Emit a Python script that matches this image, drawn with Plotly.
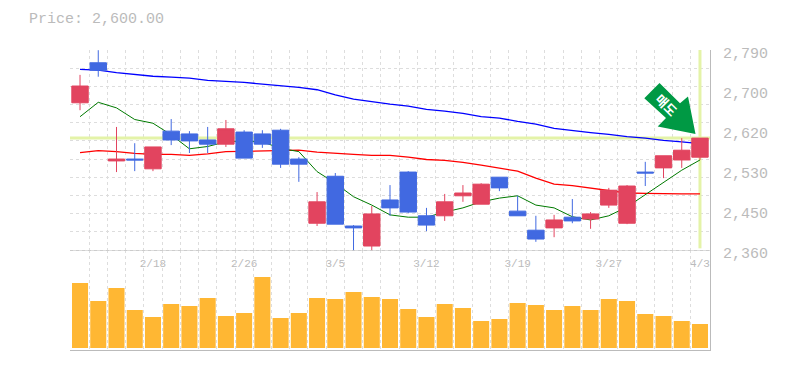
import plotly.graph_objects as go

title_text = "Price: 2,600.00"
arrow_text = "매도"
date_pos = [4, 9, 14, 19, 24, 29, 34]
date_labels = ["2/18", "2/26", "3/5", "3/12", "3/19", "3/27", "4/3"]
price_ticks = [2360, 2446, 2532, 2618, 2704, 2790]
price_labels = ["2,360", "2,450", "2,530", "2,620", "2,700", "2,790"]

opens = [2683, 2769, 2558, 2562, 2541, 2622, 2616, 2603, 2594, 2620, 2616, 2624,
         2562, 2424, 2525, 2418, 2375, 2474, 2534, 2440, 2440, 2483, 2465, 2523,
         2450, 2409, 2414, 2437, 2433, 2463, 2424, 2534, 2543, 2560, 2566]
closes = [2719, 2753, 2562, 2560, 2588, 2603, 2601, 2594, 2627, 2564, 2594, 2551,
          2551, 2470, 2422, 2414, 2444, 2457, 2448, 2420, 2470, 2489, 2508, 2500,
          2440, 2390, 2431, 2429, 2444, 2495, 2504, 2532, 2569, 2581, 2607]
highs = [2743, 2796, 2631, 2596, 2588, 2648, 2622, 2631, 2646, 2624, 2624, 2627,
         2566, 2491, 2532, 2420, 2461, 2506, 2536, 2457, 2487, 2506, 2510, 2523,
         2483, 2440, 2442, 2476, 2448, 2500, 2506, 2556, 2569, 2607, 2607]
lows = [2667, 2739, 2534, 2536, 2536, 2592, 2575, 2575, 2588, 2564, 2586, 2543,
        2513, 2418, 2422, 2366, 2366, 2440, 2446, 2407, 2429, 2470, 2465, 2493,
        2440, 2384, 2394, 2424, 2412, 2457, 2422, 2504, 2521, 2543, 2560]
ma_blue = [2755, 2753, 2748, 2744, 2740, 2738, 2736, 2731, 2729, 2727, 2723, 2720,
           2716, 2711, 2700, 2691, 2685, 2680, 2676, 2669, 2665, 2660, 2653, 2650,
           2643, 2637, 2628, 2623, 2619, 2615, 2610, 2607, 2602, 2599, 2595]
ma_red = [2576, 2580, 2578, 2574, 2572, 2572, 2570, 2573, 2578, 2579, 2579, 2581,
          2581, 2577, 2574, 2572, 2570, 2570, 2566, 2561, 2559, 2555, 2549, 2542,
          2536, 2521, 2508, 2505, 2500, 2495, 2489, 2488, 2487, 2487, 2487]
ma_green = [2653, 2684, 2672, 2647, 2639, 2614, 2584, 2589, 2599, 2601, 2599, 2585,
            2578, 2535, 2510, 2481, 2463, 2442, 2437, 2437, 2448, 2457, 2470, 2478,
            2483, 2463, 2457, 2438, 2431, 2440, 2459, 2485, 2511, 2538, 2560]
volumes = [65000, 47000, 60000, 38000, 31000, 44000, 42000, 50000, 32000, 35000, 71000, 30000,
           35000, 50000, 49000, 56000, 51000, 49000, 39000, 31000, 44000, 40000, 27000, 29000,
           45000, 43000, 38000, 42000, 38000, 49000, 47000, 34000, 32000, 27000, 24000]

W, H = 785, 370
x_idx = list(range(len(opens)))
GRAY = "#bbbbbb"
GRID = "#dddddd"
HILITE = "#e4f3a8"
RED = "#e2445f"
BLUE = "#4169e1"
MONO = "Liberation Mono"
xrange = [-0.55, 34.55]
yrange = [2360, 2796.45]
grid_x = [i - 0.5 for i in range(len(opens) + 1)]
grid_y = [2366.45 + i * 39.09 for i in range(11)]

# Pixel outline of the decorative arrow badge, converted to axis units for drawing.
arrow_pts = [(659.5, 83), (644.3, 98.3), (666, 118), (657.7, 126.5), (695.5, 134),
             (688, 96.5), (680, 103.3), (659.5, 83)]
x_span = (xrange[1] - xrange[0]) / 640
y_span = (yrange[1] - yrange[0]) / 203
arrow_x = [xrange[0] + (p[0] - 70) * x_span for p in arrow_pts]
arrow_y = [yrange[1] - (p[1] - 50) * y_span for p in arrow_pts]

fig = go.Figure()
for vals, col, w in [(ma_blue, "#0000ff", 1.3), (ma_red, "#ff0000", 1.3), (ma_green, "#007a00", 1)]:
    fig.add_trace(go.Scatter(x=x_idx, y=vals, mode="lines", line=dict(color=col, width=w),
                             xaxis="x", yaxis="y", hoverinfo="skip", showlegend=False))
fig.add_trace(go.Candlestick(
    x=x_idx, open=opens, high=highs, low=lows, close=closes, xaxis="x", yaxis="y3",
    increasing=dict(line=dict(color=RED, width=1), fillcolor=RED),
    decreasing=dict(line=dict(color=BLUE, width=1), fillcolor=BLUE),
    whiskerwidth=0, showlegend=False))
fig.add_trace(go.Scatter(x=arrow_x, y=arrow_y, mode="lines", fill="toself", fillcolor="#009944",
                         line=dict(width=0, color="#009944"), xaxis="x", yaxis="y3",
                         hoverinfo="skip", showlegend=False))
fig.add_trace(go.Bar(x=x_idx, y=volumes, marker=dict(color="#ffb733", line=dict(width=0)),
                     width=0.88, xaxis="x2", yaxis="y2", showlegend=False))

x_domain = [70 / W, 710 / W]
price_domain = [1 - 253 / H, 1 - 50 / H]
vol_domain = [1 - 350 / H, 1 - 250 / H]
minor_x = dict(tickvals=grid_x, showgrid=True, gridcolor=GRID, griddash="3px,3px", gridwidth=1, ticklen=0)

fig.update_layout(
    width=W, height=H, autosize=False, margin=dict(l=0, r=0, t=0, b=0),
    paper_bgcolor="white", plot_bgcolor="rgba(0,0,0,0)", showlegend=False, boxgap=0.1, boxgroupgap=0,
    title=dict(text=title_text, x=29 / W, y=1 - 18 / H, xanchor="left", yanchor="middle",
               font=dict(family=MONO, size=15, color=GRAY)),
    xaxis=dict(domain=x_domain, range=xrange, anchor="y", tickmode="array", tickvals=date_pos,
               ticktext=date_labels, showgrid=False, zeroline=False, ticks="", ticklabelstandoff=2,
               tickfont=dict(family=MONO, size=11, color=GRAY), rangeslider=dict(visible=False),
               minor=minor_x, automargin=False),
    xaxis2=dict(domain=x_domain, range=xrange, anchor="y2", showticklabels=False, showgrid=False,
                zeroline=False, ticks="", showline=True, linecolor=GRAY, linewidth=1,
                minor=minor_x, automargin=False),
    yaxis=dict(domain=price_domain, range=yrange, side="right", anchor="x", tickmode="array",
               tickvals=price_ticks, ticktext=price_labels, showgrid=False, zeroline=False,
               ticks="", ticklabelstandoff=9, tickfont=dict(family=MONO, size=15, color=GRAY),
               showline=True, linecolor=GRAY, linewidth=1, automargin=False,
               minor=dict(tickvals=grid_y, showgrid=True, gridcolor=GRID, griddash="3px,3px",
                          gridwidth=1, ticklen=0)),
    yaxis2=dict(domain=vol_domain, range=[-2000, 98000], side="right", anchor="x2",
                showticklabels=False, showgrid=False, zeroline=False, ticks="",
                showline=True, linecolor=GRAY, linewidth=1, automargin=False),
    yaxis3=dict(range=yrange, overlaying="y", side="right", anchor="x", visible=False, automargin=False),
    shapes=[
        dict(type="line", xref="x", yref="y", x0=xrange[0], x1=xrange[1], y0=closes[-1], y1=closes[-1],
             line=dict(color=HILITE, width=3), layer="between"),
        dict(type="line", xref="x", yref="y", x0=x_idx[-1], x1=x_idx[-1], y0=2370, y1=yrange[1],
             line=dict(color=HILITE, width=3), layer="between"),
        dict(type="line", xref="x2", yref="y2", x0=xrange[0], x1=xrange[1], y0=98000, y1=98000,
             line=dict(color=GRAY, width=1), layer="above"),
    ],
    annotations=[
        dict(text="<b>" + arrow_text + "</b>", xref="paper", yref="paper", x=666.5 / W, y=1 - 104.3 / H,
             xanchor="center", yanchor="middle", showarrow=False, textangle=45,
             font=dict(family="Noto Sans CJK KR", size=13, color="white")),
    ],
)
fig.write_html("out.html", post_script="document.body.style.margin='0';",
               config={"displayModeBar": False})
